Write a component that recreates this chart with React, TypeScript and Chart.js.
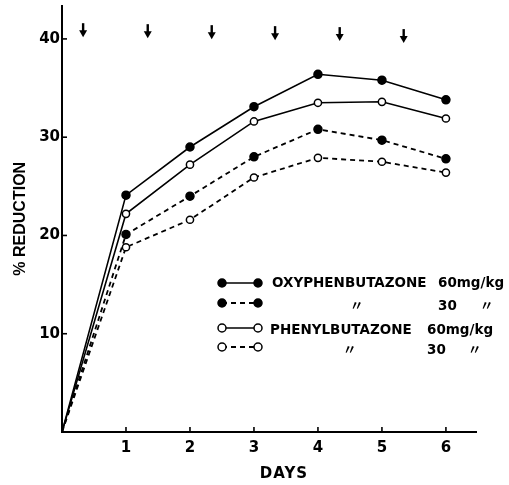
import React, { useEffect, useRef } from 'react';
import { Chart, registerables } from 'chart.js';

Chart.register(...registerables);

// ---- data ----
const days = [0, 1, 2, 3, 4, 5, 6];
const oxy60 = [0, 24.1, 29.0, 33.1, 36.4, 35.8, 33.8];
const oxy30 = [0, 20.1, 24.0, 28.0, 30.8, 29.7, 27.8];
const phen60 = [0, 22.2, 27.2, 31.6, 33.5, 33.6, 31.9];
const phen30 = [0, 18.8, 21.6, 25.9, 27.9, 27.5, 26.4];

const xTickLabels = ['', '1', '2', '3', '4', '5', '6'];
const yTickLabels = ['', '10', '20', '30', '40'];

// dosing arrows (day position, level on % reduction axis)
const arrowDays = [0.33, 1.34, 2.34, 3.33, 4.34, 5.34];
const arrowLevels = [41.6, 41.5, 41.4, 41.3, 41.2, 41.0];

const drugNames = ['OXYPHENBUTAZONE', '\u3003', 'PHENYLBUTAZONE', '\u3003'];
const doseLabels = ['60mg/kg', '30', '60mg/kg', '30'];
const doseDittos = ['', '\u3003', '', '\u3003'];

const xTitle = 'DAYS';
const yTitle = '% REDUCTION';

const FONT = '"DejaVu Sans", "Noto Sans CJK JP", sans-serif';
const FONT2 = '"Liberation Sans", "DejaVu Sans", sans-serif';

const series = [
  { name: 'oxy60', values: oxy60, filled: true, dashed: false },
  { name: 'oxy30', values: oxy30, filled: true, dashed: true },
  { name: 'phen60', values: phen60, filled: false, dashed: false },
  { name: 'phen30', values: phen30, filled: false, dashed: true },
];

const extrasPlugin = {
  id: 'extras',
  afterDraw(chart: any) {
    const ctx: CanvasRenderingContext2D = chart.ctx;
    const xs = chart.scales.x;
    const ys = chart.scales.y;
    const area = chart.chartArea;
    ctx.save();
    ctx.strokeStyle = '#000';
    ctx.fillStyle = '#000';

    // inside tick marks
    ctx.lineWidth = 1.6;
    xs.ticks.forEach((t: any) => {
      if (t.value === 0) return;
      const px = xs.getPixelForValue(t.value);
      ctx.beginPath();
      ctx.moveTo(px, area.bottom);
      ctx.lineTo(px, area.bottom - 5);
      ctx.stroke();
    });
    ys.ticks.forEach((t: any) => {
      if (t.value === 0) return;
      const py = ys.getPixelForValue(t.value);
      ctx.beginPath();
      ctx.moveTo(area.left, py);
      ctx.lineTo(area.left + 5, py);
      ctx.stroke();
    });

    // arrows
    arrowDays.forEach((d, i) => {
      const px = xs.getPixelForValue(d);
      const top = ys.getPixelForValue(arrowLevels[i]);
      const tip = top + 14;
      ctx.lineWidth = 2.4;
      ctx.beginPath();
      ctx.moveTo(px, top);
      ctx.lineTo(px, tip - 4);
      ctx.stroke();
      ctx.beginPath();
      ctx.moveTo(px - 4, tip - 7);
      ctx.lineTo(px + 4, tip - 7);
      ctx.lineTo(px, tip);
      ctx.closePath();
      ctx.fill();
    });

    // axis titles
    ctx.textBaseline = 'middle';
    ctx.textAlign = 'center';
    ctx.font = 'bold 15px ' + FONT;
    (ctx as any).letterSpacing = '1px';
    ctx.fillText(xTitle, (area.left + area.right) / 2 + 15, chart.height - 11);
    (ctx as any).letterSpacing = '0px';
    ctx.save();
    ctx.translate(21, (area.top + area.bottom) / 2);
    ctx.rotate(-Math.PI / 2);
    ctx.font = 'bold 16px ' + FONT2;
    ctx.fillText(yTitle, 0, 0);
    ctx.restore();

    // legend
    const rowLineY = [283, 303, 328, 347];
    const rowTextY = [283, 306, 330, 350];
    const nameX = [272, 350, 270, 343];
    const doseX = [438, 438, 427, 427];
    const dittoX = [480, 480, 468, 468];
    const x0 = 222;
    const x1 = 258;
    chart.data.datasets.forEach((ds: any, i: number) => {
      const y = rowLineY[i];
      ctx.strokeStyle = '#000';
      ctx.lineWidth = ds.borderWidth;
      ctx.setLineDash(ds.borderDash || []);
      ctx.beginPath();
      ctx.moveTo(x0, y);
      ctx.lineTo(x1, y);
      ctx.stroke();
      ctx.setLineDash([]);
      [x0, x1].forEach((px) => {
        ctx.beginPath();
        ctx.arc(px, y, 4, 0, Math.PI * 2);
        ctx.fillStyle = ds.pointBackgroundColor;
        ctx.fill();
        ctx.lineWidth = 1.5;
        ctx.stroke();
      });
      ctx.fillStyle = '#000';
      ctx.textAlign = 'left';
      ctx.textBaseline = 'middle';
      ctx.font = 'bold 13.5px ' + FONT;
      ctx.fillText(drugNames[i], nameX[i], rowTextY[i]);
      ctx.fillText(doseLabels[i], doseX[i], rowTextY[i]);
      if (doseDittos[i]) ctx.fillText(doseDittos[i], dittoX[i], rowTextY[i]);
    });

    ctx.restore();
  },
};

export default function App() {
  const ref = useRef<HTMLCanvasElement | null>(null);
  useEffect(() => {
    if (!ref.current) return;
    const datasets = series.map((s) => ({
      label: s.name,
      data: days.map((d, i) => ({ x: d, y: s.values[i] })),
      borderColor: '#000',
      borderWidth: s.dashed ? 1.8 : 1.6,
      borderDash: s.dashed ? [5, 4] : [],
      pointRadius: days.map((d) => (d === 0 ? 0 : s.filled ? 4 : 3.6)),
      pointBackgroundColor: s.filled ? '#000' : '#fff',
      pointBorderColor: '#000',
      pointBorderWidth: 1.5,
      tension: 0,
      fill: false,
    }));
    const chart = new Chart(ref.current, {
      type: 'line',
      data: { datasets },
      options: {
        animation: false,
        responsive: false,
        devicePixelRatio: 1,
        layout: { padding: { top: 5, right: 33, left: 0, bottom: 0 } },
        plugins: { legend: { display: false }, tooltip: { enabled: false } },
        scales: {
          x: {
            type: 'linear',
            min: 0,
            max: 6.47,
            grid: { display: false, drawTicks: false },
            border: { display: true, width: 2, color: '#000' },
            ticks: {
              stepSize: 1,
              includeBounds: false,
              autoSkip: false,
              maxRotation: 0,
              padding: 7,
              color: '#000',
              font: { family: FONT, size: 15, weight: 'bold' },
              callback: (v: any) => xTickLabels[Math.round(Number(v))] ?? '',
            },
            afterFit: (s: any) => {
              s.height = 53;
              s.paddingLeft = 0;
              s.paddingRight = 0;
            },
          },
          y: {
            type: 'linear',
            min: 0,
            max: 43.4,
            grid: { display: false, drawTicks: false },
            border: { display: true, width: 2, color: '#000' },
            ticks: {
              stepSize: 10,
              includeBounds: false,
              padding: 2,
              color: '#000',
              font: { family: FONT, size: 15, weight: 'bold' },
              callback: (v: any) => yTickLabels[Math.round(Number(v) / 10)] ?? '',
            },
            afterFit: (s: any) => {
              s.width = 62;
              s.paddingTop = 0;
              s.paddingBottom = 0;
            },
          },
        },
      } as any,
      plugins: [extrasPlugin],
    });
    return () => chart.destroy();
  }, []);
  return (
    <div style={{ position: 'absolute', left: 0, top: 0, width: 509, height: 485, background: '#fff' }}>
      <canvas ref={ref} width={509} height={485} style={{ display: 'block' }} />
    </div>
  );
}
